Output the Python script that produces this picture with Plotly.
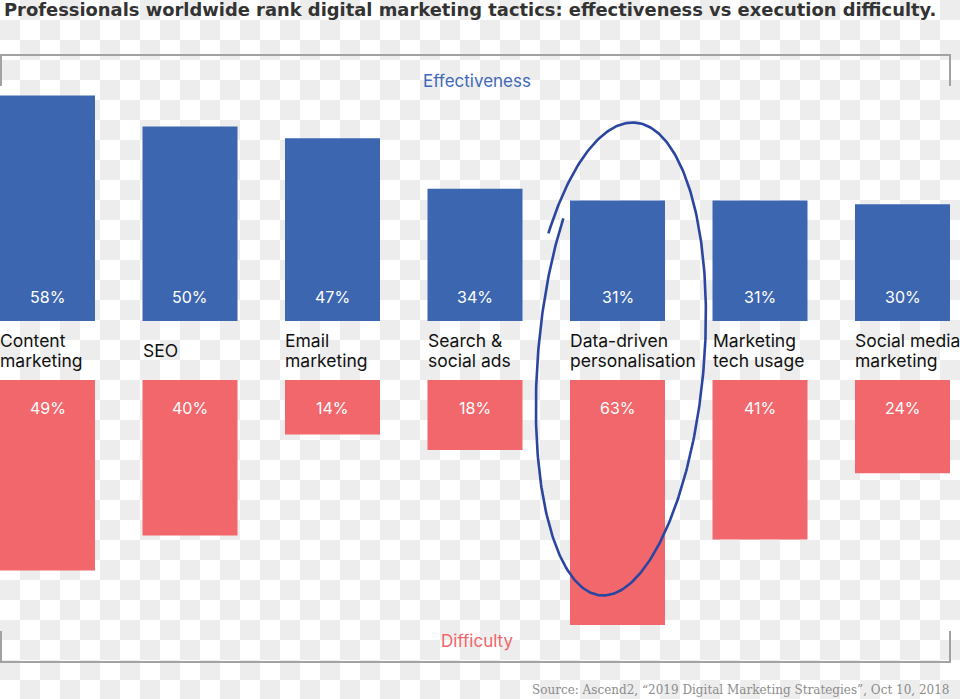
import base64
import numpy as np
import plotly.graph_objects as go

# ---------------- data ----------------
categories = ["Content<br>marketing", "SEO", "Email<br>marketing", "Search &<br>social ads",
              "Data-driven<br>personalisation", "Marketing<br>tech usage", "Social media<br>marketing"]
effectiveness = [58, 50, 47, 34, 31, 31, 30]
difficulty = [49, 40, 14, 18, 63, 41, 24]
title_text = "Professionals worldwide rank digital marketing tactics: effectiveness vs execution difficulty."
source_text = "Source: Ascend2, \u201c2019 Digital Marketing Strategies\u201d, Oct 10, 2018"

# ---------------- geometry / style ----------------
W, H = 960, 699
BLUE = "#3d66b1"
RED = "#f1676b"
FONT = "Inter"
step_px = 142.5          # distance between bars in px
bar_w = 95 / step_px     # bar width in category units
px_per = 3.89            # px per percentage point
zero_px = 350.5          # vertical centre between the two bar rows
G = 29.5 / px_per        # half gap between the rows (in % units)
LINE_GAP = 20            # px between label lines

x_idx = list(range(len(categories)))
x_left = -bar_w / 2
x_range = [x_left, x_left + W / step_px]
y_range = [-(H - zero_px) / px_per, zero_px / px_per]


def px(x):
    return x / W


def py(y):
    return 1 - y / H


fig = go.Figure()
fig.add_trace(go.Bar(x=x_idx, y=effectiveness, base=G, width=bar_w,
                     marker=dict(color=BLUE, line=dict(width=0)), hoverinfo="skip"))
fig.add_trace(go.Bar(x=x_idx, y=[-d for d in difficulty], base=-G, width=bar_w,
                     marker=dict(color=RED, line=dict(width=0)), hoverinfo="skip"))

# hand-drawn ellipse highlight (pixel overlay axes)
cx, cy, a, phi = 618.0, 359.0, 237.0, 0.0716
t = np.linspace(3.755, -2.609, 400)
b = np.linspace(79, 91, t.size)
u = b * np.cos(t)
v = a * np.sin(t)
ex = cx + u * np.cos(phi) - v * np.sin(phi)
ey = cy + u * np.sin(phi) + v * np.cos(phi)
fig.add_trace(go.Scatter(x=ex, y=ey, mode="lines", xaxis="x2", yaxis="y2",
                         line=dict(color="#2a46a1", width=2.6), hoverinfo="skip"))

annotations = []
for i, cat in enumerate(categories):
    lines = cat.split("<br>")
    n = len(lines)
    for k, ln in enumerate(lines):
        shift = ((n - 1) / 2 - k) * LINE_GAP
        annotations.append(dict(x=i + x_left, y=0, xref="x", yref="y", text=ln, showarrow=False,
                                xanchor="left", yanchor="middle", align="left",
                                xshift=-2, yshift=shift,
                                font=dict(family=FONT, size=17.5, color="#111111")))
    annotations.append(dict(x=i, y=G + 24 / px_per, xref="x", yref="y", text=f"{effectiveness[i]}%",
                            showarrow=False, xanchor="center", yanchor="middle",
                            font=dict(family=FONT, size=16, color="white")))
    annotations.append(dict(x=i, y=-G - 28 / px_per, xref="x", yref="y", text=f"{difficulty[i]}%",
                            showarrow=False, xanchor="center", yanchor="middle",
                            font=dict(family=FONT, size=16, color="white")))

annotations += [
    dict(x=px(2), y=py(10), xref="paper", yref="paper", text=title_text, showarrow=False,
         xanchor="left", yanchor="middle",
         font=dict(family="DejaVu Sans", size=17.9, color="#333333", weight=700)),
    dict(x=px(476.5), y=py(81), xref="paper", yref="paper", text="Effectiveness", showarrow=False,
         xanchor="center", yanchor="middle", font=dict(family=FONT, size=17, color="#3f68b8")),
    dict(x=px(476.5), y=py(641), xref="paper", yref="paper", text="Difficulty", showarrow=False,
         xanchor="center", yanchor="middle", font=dict(family=FONT, size=17, color="#f0666a")),
    dict(x=px(951), y=py(690), xref="paper", yref="paper", text=source_text, showarrow=False,
         xanchor="right", yanchor="middle", font=dict(family="DejaVu Serif", size=12, color="#8c8c8c")),
]

line_style = dict(color="#a2a2a2", width=2)
shapes = [
    dict(type="path", xref="paper", yref="paper", layer="above",
         path=f"M {px(1)} {py(86)} L {px(1)} {py(55)} L {px(950)} {py(55)} L {px(950)} {py(86)}",
         line=line_style),
    dict(type="path", xref="paper", yref="paper", layer="above",
         path=f"M {px(1)} {py(631)} L {px(1)} {py(662)} L {px(950)} {py(662)} L {px(950)} {py(631)}",
         line=line_style),
]

# transparent-background checkerboard
svg = ('<svg xmlns="http://www.w3.org/2000/svg" width="960" height="699">'
       '<defs><pattern id="p" width="40" height="40" patternUnits="userSpaceOnUse">'
       '<rect width="40" height="40" fill="#ffffff"/>'
       '<rect x="20" y="0" width="20" height="20" fill="#ededed"/>'
       '<rect x="0" y="20" width="20" height="20" fill="#ededed"/></pattern></defs>'
       '<rect width="960" height="699" fill="url(#p)"/></svg>')
checker = "data:image/svg+xml;base64," + base64.b64encode(svg.encode()).decode()

fig.update_layout(
    width=W, height=H, margin=dict(l=0, r=0, t=0, b=0, pad=0),
    paper_bgcolor="white", plot_bgcolor="rgba(0,0,0,0)",
    barmode="overlay", showlegend=False, hovermode=False,
    xaxis=dict(range=x_range, visible=False, fixedrange=True),
    yaxis=dict(range=y_range, visible=False, fixedrange=True),
    xaxis2=dict(range=[0, W], overlaying="x", visible=False, fixedrange=True),
    yaxis2=dict(range=[H, 0], overlaying="y", visible=False, fixedrange=True),
    annotations=annotations, shapes=shapes,
    images=[dict(source=checker, xref="paper", yref="paper", x=0, y=1, sizex=1, sizey=1,
                 sizing="stretch", xanchor="left", yanchor="top", layer="below")],
)

fig.write_html("out.html", config=dict(displayModeBar=False),
               post_script="document.body.style.margin='0';document.body.style.overflow='hidden';")
